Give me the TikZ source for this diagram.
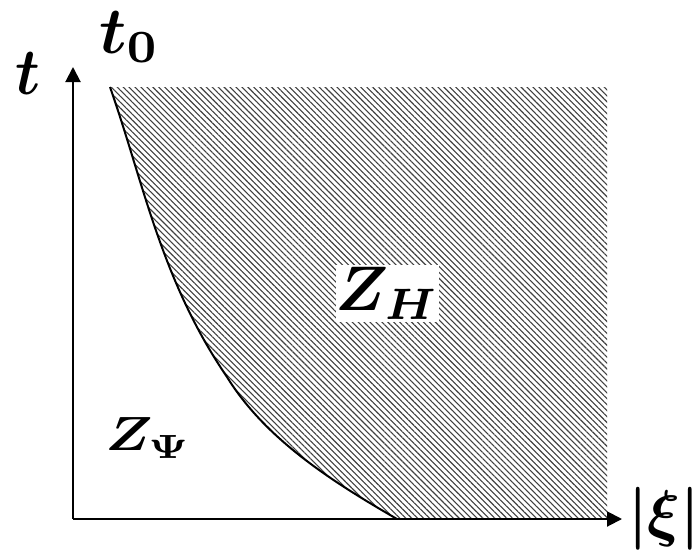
\documentclass[tikz,border=0pt]{standalone}
\usepackage{graphicx}
\usepackage{amsmath,bm}
\usetikzlibrary{arrows.meta,patterns.meta}
\begin{document}
\begin{tikzpicture}[x=1pt,y=-1pt,
  lab/.style={inner sep=0pt},
  axis/.style={line width=2pt,-{Triangle[length=15pt,width=15pt]}},
  hatch/.style={pattern={Lines[angle=-45,distance=4.2pt,line width=1.1pt]},pattern color=black!75}]
\useasboundingbox (0,0) rectangle (698,552);
\coordinate (O) at (73,519);
\coordinate (ytop) at (73,67);
\coordinate (xend) at (622,519);
\coordinate (c0) at (110,87);
\coordinate (cm) at (227,377);
\coordinate (c1) at (397,519);
\coordinate (br) at (607,519);
\coordinate (tr) at (607,87);
\fill[hatch] (c0) .. controls (144,184) and (161,280) .. (cm)
  .. controls (266,440) and (333,482) .. (c1) -- (br) -- (tr) -- cycle;
\draw[line width=2pt] (c0) .. controls (144,184) and (161,280) .. (cm)
  .. controls (266,440) and (333,482) .. (c1);
\draw[axis] (O) -- (ytop);
\draw[axis] (O) -- (xend);
\node[lab] (t) at (28,74) {\scalebox{6}[6.6]{$\bm{t}$}};
\node[lab,anchor=base west] (t0) at (99,53) {\scalebox{6.6}{$\bm{t_0}$}};
\node[lab] (xi) at (664,518.5) {\scalebox{6.1}[6.3]{$\bm{|\xi|}$}};
\node[fill=white,inner sep=0pt,minimum width=95pt,minimum height=57pt] (zh) at (387.5,293.5) {\scalebox{6.3}{$\bm{Z_H}$}};
\node[lab] (zp) at (148,438) {\scalebox{5.6}[4.8]{$\bm{Z_{\Psi}}$}};
\end{tikzpicture}
\end{document}
